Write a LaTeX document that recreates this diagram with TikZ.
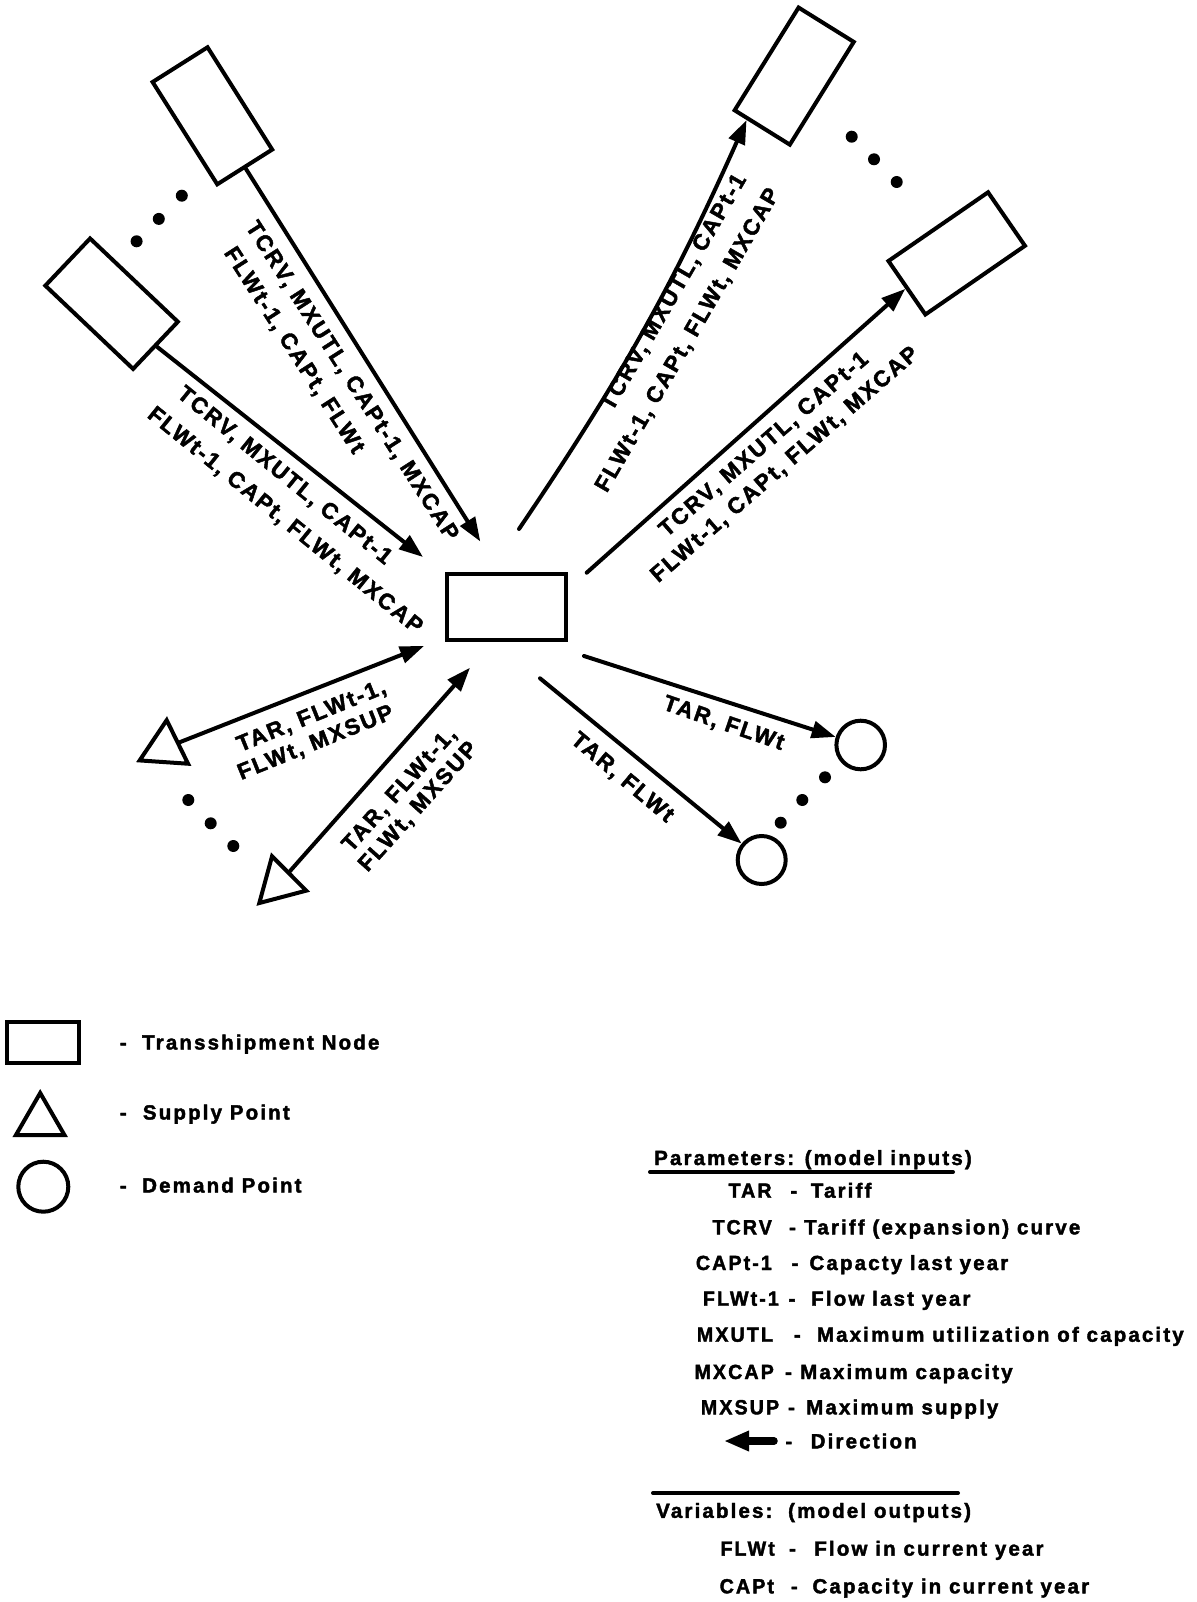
\documentclass[tikz,border=0pt]{standalone}
\usepackage{fontspec}
\setmainfont{Liberation Sans}[LetterSpace=9,BoldFeatures={FakeBold=2}]
\newfontfamily\legfont{Liberation Sans}[LetterSpace=10.5,BoldFeatures={FakeBold=2}]
\usetikzlibrary{arrows.meta,shapes.geometric,calc}
\begin{document}
\begin{tikzpicture}[x=1pt,y=-1pt,
  box/.style={draw,line width=4pt,rectangle,minimum width=121pt,minimum height=65pt,inner sep=0pt},
  sup/.style={draw,line width=4pt,regular polygon,regular polygon sides=3,minimum size=56pt,inner sep=0pt},
  dem/.style={draw,line width=4pt,circle,minimum size=48pt,inner sep=0pt},
  dotn/.style={circle,fill,minimum size=12pt,inner sep=0pt},
  arr/.style={line width=4pt,line cap=round,-{Triangle[length=24pt,width=17pt]}},
  lab/.style={font=\fontsize{22.5}{27}\selectfont\bfseries,inner sep=0pt},
  leg/.style={font=\legfont\fontsize{20.5}{24}\selectfont\bfseries,inner sep=0pt,anchor=base west},
  legk/.style={font=\legfont\fontsize{20.5}{24}\selectfont\bfseries,inner sep=0pt,anchor=base west,xscale=0.96},
  legd/.style={font=\legfont\fontsize{20.5}{24}\selectfont\bfseries,inner sep=0pt,anchor=base},
  rule/.style={line width=4pt,line cap=round},
]
\useasboundingbox (0,0) rectangle (1196,1602);

% ---------- nodes ----------
\node[box,minimum width=119pt,minimum height=66.5pt] (c) at (506.2,606.8) {};
\node[box,rotate=-57.7] (r1) at (212.4,115.8) {};
\node[box,rotate=-43.5] (r2) at (111.6,303.7) {};
\node[box,rotate=58.1] (r3) at (794.2,76.1) {};
\node[box,rotate=34.6] (r4) at (956.7,253.4) {};
\node[sup,rotate=-3.9] (s1) at (164.8,748.1) {};
\node[sup,rotate=14.8] (s2) at (279.2,883.3) {};
\node[dem,minimum size=48.6pt] (d1) at (860.7,745) {};
\node[dem] (d2) at (761.7,860) {};

% ---------- dots ----------
\node[dotn] (p1) at (181.8,195.7) {};
\node[dotn] (p2) at (158.8,218.9) {};
\node[dotn] (p3) at (136.6,241.3) {};
\node[dotn] (p4) at (851.7,136.7) {};
\node[dotn] (p5) at (874,159.3) {};
\node[dotn] (p6) at (896.7,182) {};
\node[dotn] (p7) at (188.3,800) {};
\node[dotn] (p8) at (210.7,823.3) {};
\node[dotn] (p9) at (233.3,846) {};
\node[dotn] (p10) at (825,777.3) {};
\node[dotn] (p11) at (802.3,800) {};
\node[dotn] (p12) at (780.7,822.7) {};

% ---------- free ends ----------
\coordinate (t1) at (480.3,541.5);
\coordinate (t2) at (423,557);
\coordinate (o3) at (519,529);
\coordinate (o4) at (586.7,572.7);
\coordinate (t5) at (424,646);
\coordinate (t6) at (470,667.7);
\coordinate (o7) at (584,656);
\coordinate (o8) at (540,678.3);

% ---------- connectors ----------
\draw[arr] (r1.east) -- (t1);
\draw[arr] (r2.east) -- (t2);
\draw[arr] (o3) to[bend right=5] ($(r3.north west)!0.25!(r3.south west)$);
\draw[arr] (o4) -- (r4.west);
\draw[arr] (s1) -- (t5);
\draw[arr] (s2) -- (t6);
\draw[arr] (o7) -- (d1);
\draw[arr] (o8) -- (d2);

% ---------- connector labels ----------
\node[lab,rotate=-57.3] (l1a) at (351.5,381.3) {TCRV, MXUTL, CAPt-1, MXCAP};
\node[lab,rotate=-57.3] (l1b) at (293.6,350.7) {FLWt-1, CAPt, FLWt};
\node[lab,rotate=-39] (l2a) at (284.3,476) {TCRV, MXUTL, CAPt-1};
\node[lab,rotate=-39] (l2b) at (284.8,521) {FLWt-1, CAPt, FLWt, MXCAP};
\node[lab,rotate=60] (l3a) at (674.2,292.6) {TCRV, MXUTL, CAPt-1};
\node[lab,rotate=60] (l3b) at (688.1,340.4) {FLWt-1, CAPt, FLWt, MXCAP};
\node[lab,rotate=41] (l4a) at (764.2,445) {TCRV, MXUTL, CAPt-1};
\node[lab,rotate=41] (l4b) at (785,465) {FLWt-1, CAPt, FLWt, MXCAP};
\node[lab,rotate=22] (l5a) at (311.7,716.7) {TAR, FLWt-1,};
\node[lab,rotate=22] (l5b) at (315.8,743.3) {FLWt, MXSUP};
\node[lab,rotate=48] (l6a) at (400,790) {TAR, FLWt-1,};
\node[lab,rotate=48] (l6b) at (418.6,807) {FLWt, MXSUP};
\node[lab,rotate=-19] (l7) at (723.5,724) {TAR, FLWt};
\node[lab,rotate=-40] (l8) at (622,778) {TAR, FLWt};

% ---------- shape legend ----------
\node[box,minimum width=72pt,minimum height=41pt] (kr) at (43,1042.5) {};
\node[sup,minimum size=56pt] (kt) at (40.2,1121) {};
\node[dem,minimum size=50pt] (kc) at (43.3,1186.7) {};
\node[legd] (kr1) at (123.3,1049.5) {-};
\node[leg] (kr2) at (142,1049.5) {Transshipment Node};
\node[legd] (kt1) at (123.3,1119.5) {-};
\node[leg] (kt2) at (142.7,1119.5) {Supply Point};
\node[legd] (kc1) at (123.3,1192.5) {-};
\node[leg] (kc2) at (142,1192.5) {Demand Point};

% ---------- parameter legend ----------
\node[leg] (ph) at (654,1165) {Parameters: (model inputs)};
\coordinate (u1a) at (650,1172);
\coordinate (u1b) at (953,1172);
\draw[rule] (u1a) -- (u1b);

\node[legk] (k1) at (728.3,1197.7) {TAR};
\node[legd] (k1d) at (793.8,1197.7) {-};
\node[leg] (k1t) at (810.7,1197.7) {Tariff};

\node[legk] (k2) at (712.3,1234.3) {TCRV};
\node[legd] (k2d) at (792.5,1234.3) {-};
\node[leg] (k2t) at (804,1234.3) {Tariff (expansion) curve};

\node[legk] (k3) at (695.7,1270) {CAPt-1};
\node[legd] (k3d) at (795,1270) {-};
\node[leg] (k3t) at (809.3,1270) {Capacty last year};

\node[legk] (k4) at (702.7,1305.7) {FLWt-1};
\node[legd] (k4d) at (792,1305.7) {-};
\node[leg] (k4t) at (811,1305.7) {Flow last year};

\node[legk] (k5) at (696.7,1341.7) {MXUTL};
\node[legd] (k5d) at (797.3,1341.7) {-};
\node[leg] (k5t) at (816.7,1341.7) {Maximum utilization of capacity};

\node[legk] (k6) at (694.3,1379) {MXCAP};
\node[legd] (k6d) at (788.5,1379) {-};
\node[leg] (k6t) at (800,1379) {Maximum capacity};

\node[legk] (k7) at (700.7,1414.3) {MXSUP};
\node[legd] (k7d) at (791.5,1414.3) {-};
\node[leg] (k7t) at (806,1414.3) {Maximum supply};

\coordinate (ka1) at (774,1441);
\coordinate (ka2) at (724,1441);
\draw[line width=7.5pt,line cap=round,-{Triangle[length=25pt,width=19pt]}] (ka1) -- (ka2);
\node[legd] (k8d) at (788.8,1448.3) {-};
\node[leg] (k8t) at (810.5,1448.3) {Direction};

\coordinate (u2a) at (653,1493);
\coordinate (u2b) at (958,1493);
\draw[rule] (u2a) -- (u2b);
\node[leg] (vh) at (656,1517.8) {Variables:\ \ (model outputs)};

\node[legk] (v1) at (720.3,1555.6) {FLWt};
\node[legd] (v1d) at (792.5,1555.6) {-};
\node[leg] (v1t) at (814.1,1555.6) {Flow in current year};

\node[legk] (v2) at (719.5,1593.3) {CAPt};
\node[legd] (v2d) at (794.3,1593.3) {-};
\node[leg] (v2t) at (812.3,1593.3) {Capacity in current year};
\end{tikzpicture}
\end{document}
